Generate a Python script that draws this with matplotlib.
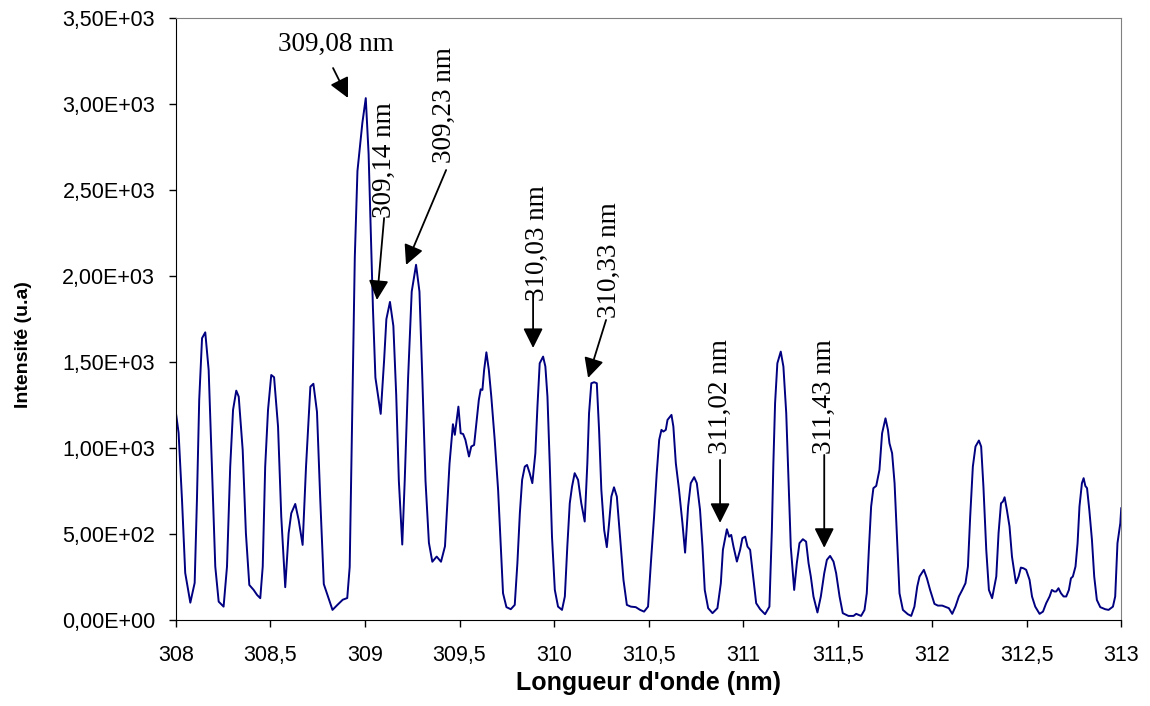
import matplotlib.pyplot as plt
from matplotlib.ticker import FuncFormatter, MultipleLocator

# spectrum (nm, u.a)
wavelength = [
    308.000, 308.014, 308.032, 308.049, 308.076, 308.099, 308.111, 308.123, 308.138, 308.155,
    308.173, 308.190, 308.208, 308.226, 308.252, 308.270, 308.287, 308.302, 308.319, 308.332,
    308.353, 308.370, 308.388, 308.411, 308.429, 308.446, 308.459, 308.472, 308.487, 308.504,
    308.519, 308.540, 308.557, 308.578, 308.596, 308.610, 308.631, 308.649, 308.670, 308.688,
    308.711, 308.727, 308.746, 308.763, 308.782, 308.828, 308.854, 308.882, 308.906, 308.919,
    308.928, 308.937, 308.946, 308.960, 308.973, 308.986, 309.004, 309.019, 309.032, 309.042,
    309.055, 309.083, 309.101, 309.113, 309.132, 309.150, 309.165, 309.179, 309.197, 309.210,
    309.228, 309.247, 309.270, 309.288, 309.303, 309.320, 309.338, 309.356, 309.379, 309.402,
    309.423, 309.447, 309.465, 309.475, 309.483, 309.494, 309.506, 309.519, 309.531, 309.550,
    309.562, 309.577, 309.589, 309.602, 309.612, 309.621, 309.630, 309.642, 309.655, 309.668,
    309.686, 309.704, 309.718, 309.730, 309.748, 309.771, 309.792, 309.806, 309.819, 309.831,
    309.845, 309.857, 309.871, 309.885, 309.901, 309.912, 309.924, 309.942, 309.954, 309.965,
    309.977, 309.989, 310.004, 310.021, 310.042, 310.057, 310.070, 310.083, 310.095, 310.109,
    310.127, 310.144, 310.162, 310.176, 310.185, 310.197, 310.212, 310.226, 310.238, 310.250,
    310.265, 310.279, 310.291, 310.303, 310.317, 310.332, 310.349, 310.367, 310.385, 310.406,
    310.432, 310.455, 310.476, 310.497, 310.512, 310.529, 310.543, 310.556, 310.568, 310.578,
    310.591, 310.600, 310.621, 310.631, 310.644, 310.661, 310.679, 310.693, 310.709, 310.723,
    310.741, 310.755, 310.772, 310.785, 310.797, 310.815, 310.838, 310.864, 310.882, 310.893,
    310.914, 310.926, 310.937, 310.949, 310.967, 310.984, 310.996, 311.011, 311.023, 311.037,
    311.051, 311.069, 311.090, 311.116, 311.139, 311.152, 311.160, 311.169, 311.181, 311.199,
    311.213, 311.228, 311.240, 311.252, 311.270, 311.284, 311.298, 311.316, 311.333, 311.346,
    311.358, 311.372, 311.393, 311.411, 311.429, 311.443, 311.460, 311.478, 311.492, 311.510,
    311.527, 311.557, 311.584, 311.598, 311.624, 311.642, 311.654, 311.665, 311.677, 311.689,
    311.704, 311.721, 311.735, 311.753, 311.766, 311.774, 311.788, 311.801, 311.813, 311.827,
    311.845, 311.871, 311.889, 311.906, 311.921, 311.933, 311.956, 311.972, 311.989, 312.012,
    312.030, 312.053, 312.074, 312.088, 312.106, 312.123, 312.141, 312.159, 312.176, 312.189,
    312.201, 312.215, 312.229, 312.247, 312.259, 312.271, 312.286, 312.300, 312.317, 312.339,
    312.351, 312.364, 312.374, 312.383, 312.395, 312.409, 312.422, 312.443, 312.457, 312.469,
    312.483, 312.497, 312.515, 312.528, 312.545, 312.568, 312.586, 312.603, 312.621, 312.633,
    312.646, 312.656, 312.668, 312.681, 312.695, 312.709, 312.723, 312.734, 312.744, 312.758,
    312.769, 312.779, 312.792, 312.801, 312.810, 312.819, 312.831, 312.845, 312.857, 312.871,
    312.889, 312.915, 312.933, 312.956, 312.968, 312.980, 312.995, 313.000,
]
intensity = [
    1203, 1087, 698, 273, 100, 215, 698, 1279, 1638, 1672,
    1453, 891, 310, 106, 77, 310, 891, 1221, 1333, 1298,
    988, 504, 203, 174, 145, 126, 310, 891, 1221, 1424,
    1411, 1124, 601, 190, 504, 620, 674, 581, 436, 891,
    1356, 1373, 1209, 708, 208, 58, 87, 117, 127, 308,
    908, 1509, 2109, 2610, 2750, 2890, 3034, 2710, 2209, 1809,
    1409, 1198, 1509, 1749, 1849, 1709, 1309, 808, 438, 808,
    1409, 1909, 2065, 1909, 1409, 808, 448, 338, 368, 338,
    428, 908, 1138, 1076, 1143, 1240, 1085, 1081, 1047, 950,
    1008, 1017, 1143, 1279, 1341, 1337, 1453, 1556, 1453, 1298,
    1047, 756, 426, 155, 74, 62, 87, 330, 620, 814,
    891, 901, 853, 795, 969, 1240, 1492, 1531, 1473, 1298,
    911, 484, 174, 77, 58, 136, 426, 678, 775, 853,
    814, 678, 572, 911, 1202, 1376, 1382, 1376, 1105, 756,
    523, 423, 562, 717, 771, 717, 484, 233, 87, 77,
    74, 58, 48, 77, 330, 601, 853, 1047, 1105, 1095,
    1105, 1163, 1192, 1124, 911, 756, 562, 391, 659, 795,
    830, 795, 640, 426, 174, 68, 39, 68, 213, 407,
    527, 484, 494, 426, 339, 407, 475, 484, 426, 407,
    271, 97, 62, 33, 77, 523, 911, 1260, 1492, 1560,
    1473, 1202, 814, 426, 174, 330, 446, 469, 455, 330,
    252, 136, 43, 136, 271, 349, 372, 339, 271, 136,
    39, 23, 23, 35, 23, 58, 155, 407, 659, 766,
    779, 872, 1085, 1172, 1105, 1027, 969, 795, 504, 155,
    58, 33, 23, 77, 194, 252, 291, 242, 174, 93,
    83, 83, 74, 68, 35, 77, 136, 174, 213, 310,
    601, 891, 1008, 1043, 1008, 775, 407, 174, 126, 252,
    504, 678, 688, 713, 640, 543, 368, 213, 252, 304,
    300, 291, 233, 136, 77, 35, 48, 97, 136, 174,
    165, 165, 184, 155, 136, 136, 174, 242, 252, 310,
    446, 659, 795, 824, 779, 766, 640, 465, 252, 116,
    74, 62, 58, 77, 136, 446, 562, 649,
]

# labelled lines
peak_labels = ["309,08 nm", "309,14 nm", "309,23 nm", "310,03 nm",
               "310,33 nm", "311,02 nm", "311,43 nm"]
label_pos = [(308.847, 3349), (309.101, 2674), (309.418, 2994), (309.910, 2192),
             (310.291, 2093), (310.878, 1297), (311.429, 1297)]
label_rot = [0, 90, 90, 90, 90, 90, 90]
arrow_tail = [(308.831, 3209), (309.101, 2337), (309.429, 2616), (309.889, 1900),
              (310.275, 1744), (310.878, 930), (311.429, 959)]
arrow_tip = [(308.910, 3035), (309.063, 1860), (309.217, 2064), (309.889, 1581),
             (310.180, 1407), (310.878, 564), (311.429, 419)]

plt.rcParams['font.family'] = ['Liberation Sans', 'DejaVu Sans']

fig = plt.figure(figsize=(11.5, 7.06), dpi=100)
ax = fig.add_axes([0.153, 0.122, 0.822, 0.8525])

ax.plot(wavelength, intensity, color='#000080', lw=1.4)

for lab, pos, rot, tail, tip in zip(peak_labels, label_pos, label_rot, arrow_tail, arrow_tip):
    ax.text(pos[0], pos[1], lab, rotation=rot, ha='center', va='center',
            family=['Liberation Serif'], fontsize=19.5)
    ax.annotate('', xy=tip, xytext=tail,
                arrowprops=dict(arrowstyle='-|>,head_length=0.6,head_width=0.3',
                                color='black', lw=1.3, mutation_scale=20,
                                shrinkA=0, shrinkB=0))

ax.set_xlim(308, 313)
ax.set_ylim(0, 3500)
ax.xaxis.set_major_locator(MultipleLocator(0.5))
ax.yaxis.set_major_locator(MultipleLocator(500))
ax.xaxis.set_major_formatter(FuncFormatter(lambda v, p: f"{v:g}".replace('.', ',')))
ax.yaxis.set_major_formatter(FuncFormatter(lambda v, p: f"{v:.2E}".replace('.', ',')))
ax.tick_params(direction='out', length=5, width=1, labelsize=15.5)
ax.tick_params(axis='x', pad=13)
ax.tick_params(axis='y', pad=10)

for side in ['top', 'right']:
    ax.spines[side].set_color('#808080')

ax.set_xlabel("Longueur d'onde (nm)", fontsize=18, fontweight='bold', labelpad=4)
ax.set_ylabel("Intensité (u.a)", fontsize=14, fontweight='bold')
ax.yaxis.set_label_coords(-0.152, 0.458)

fig.savefig("out.png", dpi=100)
